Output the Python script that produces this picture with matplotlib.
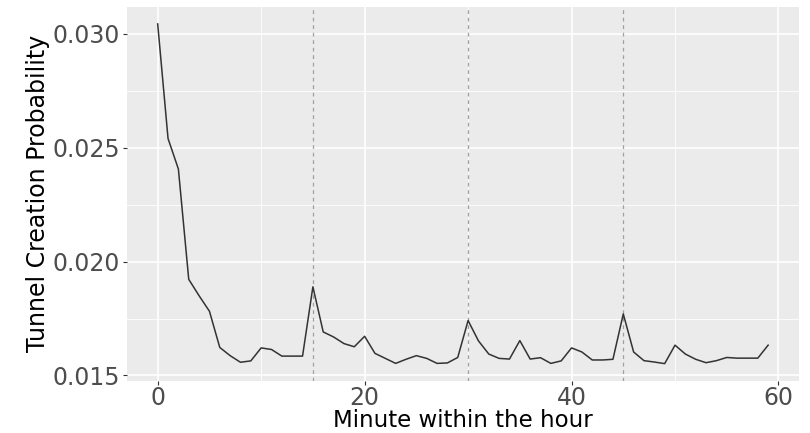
import numpy as np
import matplotlib.pyplot as plt

# minute of the hour and estimated tunnel creation probability
minutes = np.arange(60)
prob = [
    0.03043, 0.02540, 0.02406, 0.01922, 0.01850, 0.01782, 0.01623, 0.01587,
    0.01558, 0.01564, 0.01621, 0.01614, 0.01585, 0.01585, 0.01585, 0.01889,
    0.01691, 0.01669, 0.01640, 0.01626, 0.01672, 0.01597, 0.01575, 0.01553,
    0.01571, 0.01587, 0.01575, 0.01553, 0.01555, 0.01579, 0.01741, 0.01652,
    0.01594, 0.01575, 0.01572, 0.01653, 0.01572, 0.01578, 0.01553, 0.01564,
    0.01621, 0.01603, 0.01568, 0.01568, 0.01571, 0.01770, 0.01603, 0.01565,
    0.01559, 0.01552, 0.01633, 0.01594, 0.01571, 0.01556, 0.01565, 0.01579,
    0.01576, 0.01576, 0.01576, 0.01633,
]
quarter_marks = [15, 30, 45]

fig = plt.figure(figsize=(8.1, 4.33), dpi=100)
ax = fig.add_axes([0.157, 0.121, 0.829, 0.863])
ax.set_facecolor('#EBEBEB')
for s in ax.spines.values():
    s.set_visible(False)

# ggplot style expansion (5% each side)
xr = max(minutes) - min(minutes)
ax.set_xlim(min(minutes) - 0.05 * xr, max(minutes) + 0.05 * xr)
yr = max(prob) - min(prob)
ax.set_ylim(min(prob) - 0.05 * yr, max(prob) + 0.05 * yr)

ax.set_xticks([0, 20, 40, 60])
ax.set_xticks([10, 30, 50], minor=True)
ax.set_yticks([0.015, 0.020, 0.025, 0.030])
ax.set_yticks([0.0175, 0.0225, 0.0275], minor=True)
ax.set_yticklabels(['0.015', '0.020', '0.025', '0.030'])

ax.grid(which='major', color='white', linewidth=1.2)
ax.grid(which='minor', color='white', linewidth=0.6)
ax.set_axisbelow(True)

ax.tick_params(which='major', length=3, width=0.8, color='#333333',
               labelcolor='#4D4D4D', labelsize=17, pad=1)
ax.tick_params(axis='y', which='major', pad=2)
ax.tick_params(which='minor', length=0)

for q in quarter_marks:
    ax.axvline(q, color='#A0A0A0', linestyle=(0, (3, 3)), linewidth=0.9)

ax.plot(minutes, prob, color='#333333', linewidth=1.1)

ax.set_xlabel('Minute within the hour', fontsize=16.5, color='black', labelpad=-0.5)
ax.set_ylabel('Tunnel Creation Probability', fontsize=17, color='black', labelpad=2)

fig.savefig('out.png', dpi=100)
